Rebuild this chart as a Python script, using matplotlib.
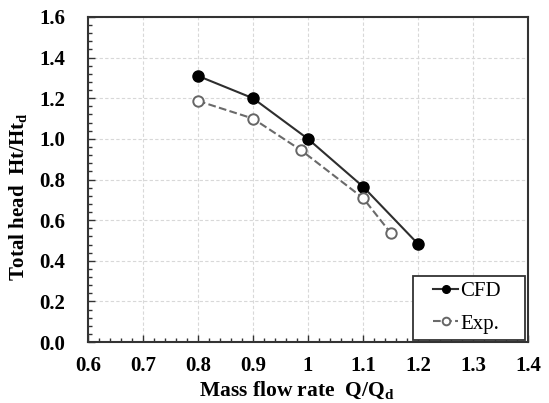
import numpy as np
import matplotlib
matplotlib.use("Agg")
import matplotlib.pyplot as plt
from matplotlib.patches import Rectangle
from matplotlib.ticker import MultipleLocator, FuncFormatter

# 数据
cfd_q = [0.8, 0.9, 1.0, 1.1, 1.2]
cfd_h = [1.31, 1.20, 1.00, 0.765, 0.483]
exp_q = [0.8, 0.9, 0.988, 1.1, 1.15]
exp_h = [1.187, 1.10, 0.943, 0.709, 0.538]

plt.rcParams['font.family'] = ['Liberation Serif', 'DejaVu Serif']
plt.rcParams['font.weight'] = 'bold'
plt.rcParams['mathtext.fontset'] = 'custom'
plt.rcParams['mathtext.rm'] = 'Liberation Serif:bold'
plt.rcParams['mathtext.bf'] = 'Liberation Serif:bold'

fig = plt.figure(figsize=(5.49, 4.03), dpi=100)
ax = fig.add_axes([0.160, 0.151, 0.802, 0.807])

ax.plot(cfd_q, cfd_h, '-', color='#2e2e2e', lw=1.5, marker='o', ms=8,
        mfc='black', mec='black', label='CFD', zorder=3)
ax.plot(exp_q, exp_h, '--', color='#6a6a6a', lw=1.5, marker='o', ms=7.5,
        mfc='white', mec='#666666', mew=1.4, label='Exp.', zorder=3)

ax.set_xlim(0.6, 1.4)
ax.set_ylim(0.0, 1.6)
ax.xaxis.set_major_locator(MultipleLocator(0.1))
ax.xaxis.set_minor_locator(MultipleLocator(0.02))
ax.yaxis.set_major_locator(MultipleLocator(0.2))
ax.yaxis.set_minor_locator(MultipleLocator(0.04))
ax.xaxis.set_major_formatter(FuncFormatter(lambda v, p: f'{round(v, 1):g}'))
ax.yaxis.set_major_formatter(plt.FormatStrFormatter('%.1f'))
ax.tick_params(which='both', direction='in', color='#333333', labelsize=15)
ax.tick_params(which='major', length=5, width=1)
ax.tick_params(which='minor', length=3, width=1)
ax.tick_params(axis='y', pad=16)
ax.tick_params(axis='x', pad=10)
for s in ax.spines.values():
    s.set_color('#333333')
    s.set_linewidth(1.5)

ax.grid(True, which='major', ls=(0, (3, 2)), color='#d8d8d8', lw=0.8)
ax.set_axisbelow(True)

ax.set_xlabel('Mass flow rate  Q/Q$_\\mathrm{d}$', fontsize=15.5, fontweight='bold')
ax.set_ylabel('Total head  Ht/Ht$_\\mathrm{d}$', fontsize=15, fontweight='bold')
ax.xaxis.set_label_coords(0.475, -0.115)
ax.yaxis.set_label_coords(-0.132, 0.446)

# 图例外框单独画，留出左侧空白
ax.add_patch(Rectangle((0.739, 0.006), 0.254, 0.197, transform=ax.transAxes,
                       facecolor='white', edgecolor='#333333', lw=1.3, zorder=4))
leg = ax.legend(loc='center left', bbox_to_anchor=(0.785, 0.106), frameon=False,
                handlelength=1.2, handletextpad=0.1, borderpad=0, borderaxespad=0,
                labelspacing=0.6,
                prop={'family': 'Liberation Serif', 'weight': 'normal', 'size': 15})
leg.set_zorder(5)
for line in leg.get_lines():
    line.set_markersize(5.5)

fig.savefig('out.png', dpi=100)
